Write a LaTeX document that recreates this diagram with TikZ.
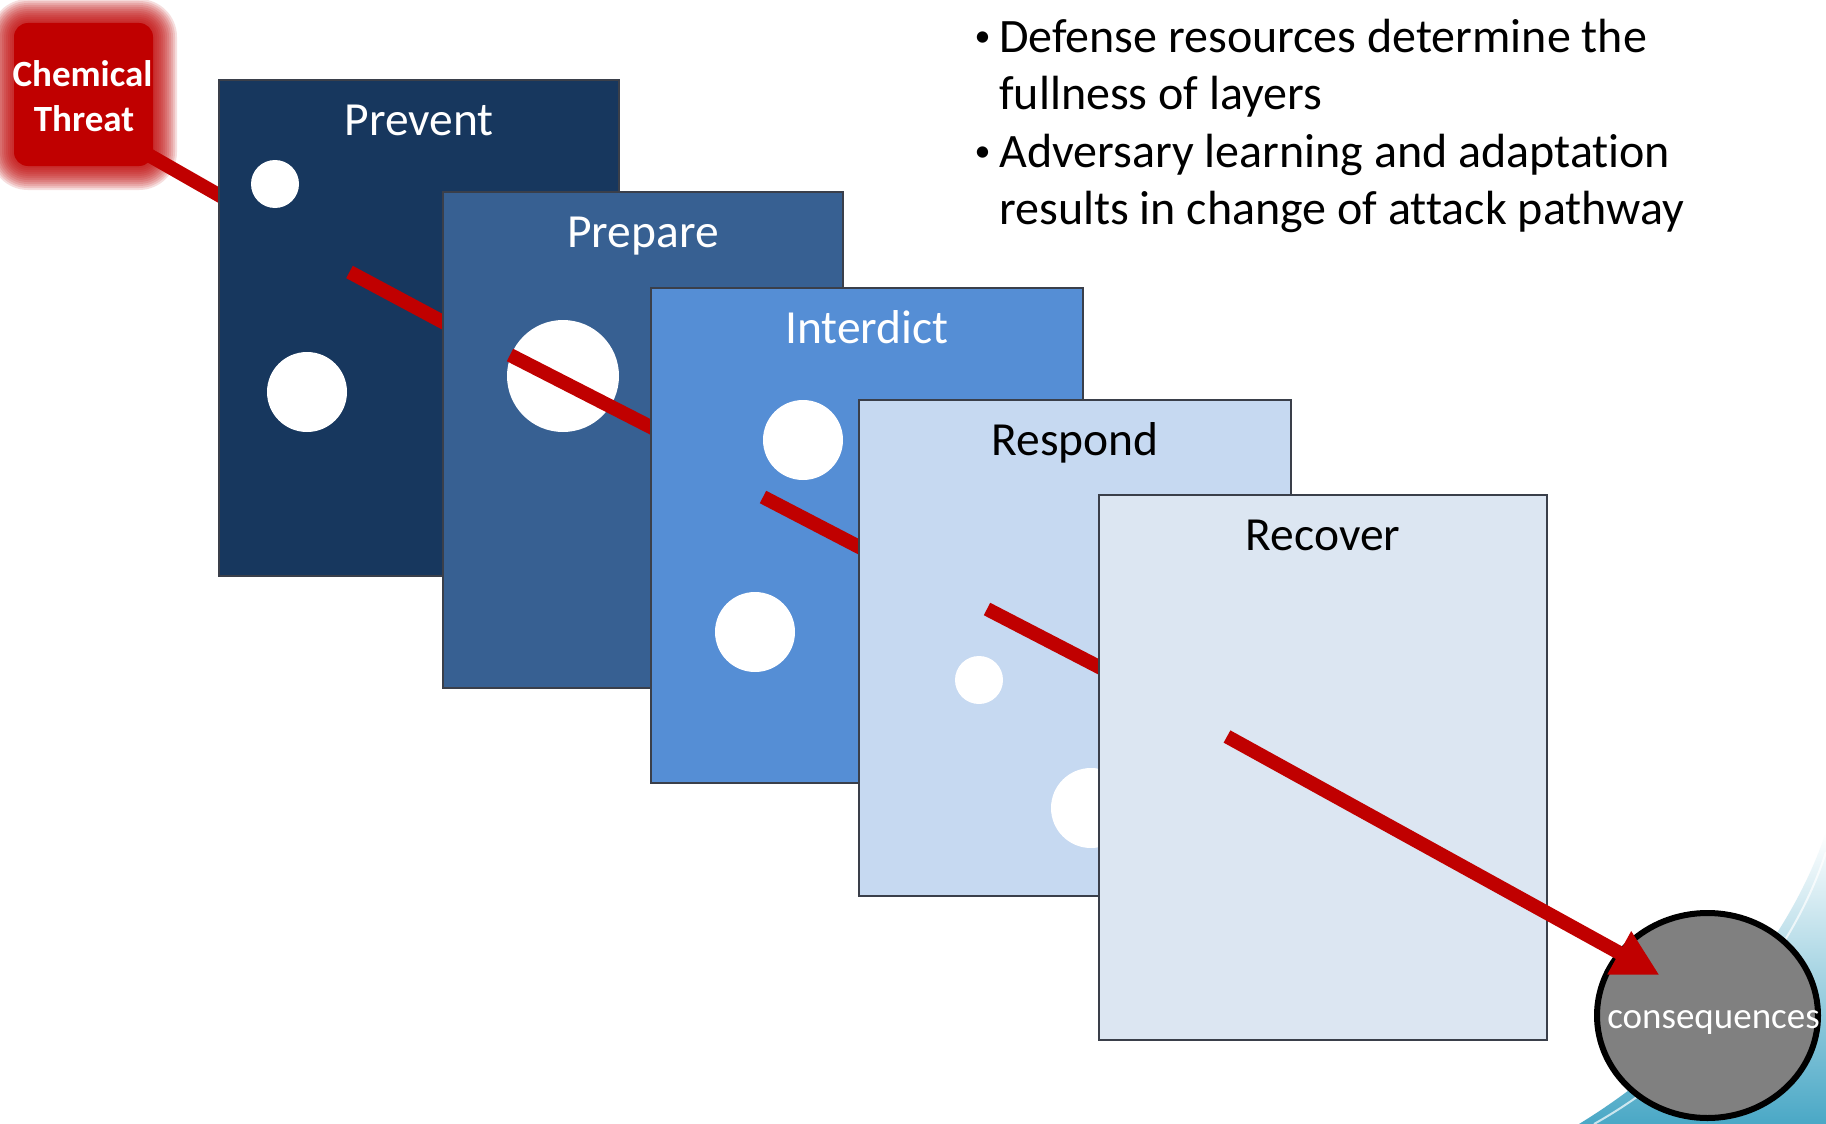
\documentclass[tikz,border=0pt]{standalone}
\usepackage{fontspec}
\setmainfont{Carlito}[Ligatures=NoCommon]
\usetikzlibrary{arrows.meta,shapes.geometric}
\definecolor{threatred}{HTML}{C00000}
\definecolor{preventc}{HTML}{17375E}
\definecolor{preparec}{HTML}{376092}
\definecolor{interdictc}{HTML}{558ED5}
\definecolor{respondc}{HTML}{C6D9F1}
\definecolor{recoverc}{HTML}{DCE6F2}
\definecolor{consgray}{HTML}{808080}
\definecolor{swoosh}{HTML}{4AA8C6}
\definecolor{edgegray}{HTML}{3A3F4A}
\begin{document}
\begin{tikzpicture}[x=1pt,y=-1pt,
  layer/.style={draw=edgegray, line width=1.5pt, rectangle, inner sep=0pt, outer sep=0pt},
  layertitle/.style={anchor=base, inner sep=0pt, font=\fontsize{47.5}{57}\selectfont},
  hole/.style={circle, fill=white, draw=none, inner sep=0pt},
  attackline/.style={draw=threatred, line width=14pt},
  bullettext/.style={anchor=base west, inner sep=0pt, font=\fontsize{48}{58}\selectfont},
  bulletdot/.style={anchor=base, inner sep=0pt, font=\fontsize{32}{38}\selectfont},
  threattext/.style={anchor=base, inner sep=0pt, text=white, font=\fontsize{37}{45}\selectfont\bfseries},
]
\useasboundingbox (0,0) rectangle (1826,1124);
\fill[white] (0,0) rectangle (1826,1124);

% background swoosh
\shade[top color=white, bottom color=swoosh]
  (1826,832) .. controls (1790,940) and (1700,1050) .. (1579,1124) -- (1826,1124) -- cycle;
\draw[white, line width=2pt, opacity=0.7]
  (1826,852) .. controls (1794,952) and (1708,1060) .. (1594,1124);

% coordinates of the attack pathway
\coordinate (s1a) at (110,133);
\coordinate (s1b) at (245,210);
\coordinate (s2a) at (349.5,272);
\coordinate (s2b) at (470,336.5);
\coordinate (s3a) at (510,355);
\coordinate (s3b) at (680,442);
\coordinate (s4a) at (763,497);
\coordinate (s4b) at (890,563);
\coordinate (s5a) at (987,609);
\coordinate (s5b) at (1130,683);
\coordinate (s6a) at (1227,736.5);
\coordinate (s6b) at (1659.5,975);

% chemical threat
\draw[attackline] (s1a) -- (s1b);
\foreach \e in {12,10,...,-12} {
  \pgfmathsetmacro\rr{26+\e}
  \fill[threatred, fill opacity=0.13, rounded corners=\rr pt] (2-\e,11-\e) rectangle (165+\e,178+\e);
}
\fill[threatred, rounded corners=14pt] (14,23) rectangle (153,166);
\coordinate (threat) at (84.5,94.5);
\node[threattext] (threat1) at (82.5,86) {Chemical};
\node[threattext] (threat2) at (84,131) {Threat};

% Prevent
\node[layer, fill=preventc, minimum width=400pt, minimum height=496pt] (prevent) at (419,328) {};
\node[layertitle, text=white] (preventt) at (419,135) {Prevent};
\node[hole, minimum size=48pt] (h11) at (275,184) {};
\node[hole, minimum size=80pt] (h12) at (307,392) {};
\draw[attackline] (s2a) -- (s2b);

% Prepare
\node[layer, fill=preparec, minimum width=400pt, minimum height=496pt] (prepare) at (643,440) {};
\node[layertitle, text=white] (preparet) at (643,247) {Prepare};
\node[hole, minimum size=112pt] (h21) at (563,376) {};
\draw[attackline] (s3a) -- (s3b);

% Interdict
\node[layer, fill=interdictc, minimum width=432pt, minimum height=495pt] (interdict) at (867,535.5) {};
\node[layertitle, text=white] (interdictt) at (867,343) {Interdict};
\node[hole, minimum size=80pt] (h31) at (803,440) {};
\node[hole, minimum size=80pt] (h32) at (755,632) {};
\draw[attackline] (s4a) -- (s4b);

% Respond
\node[layer, fill=respondc, minimum width=432pt, minimum height=496pt] (respond) at (1075,648) {};
\node[layertitle, text=black] (respondt) at (1075,455) {Respond};
\node[hole, minimum size=48pt] (h41) at (979,680) {};
\node[hole, minimum size=80pt] (h42) at (1091,808) {};
\draw[attackline] (s5a) -- (s5b);

% Recover
\node[layer, fill=recoverc, minimum width=448pt, minimum height=545pt] (recover) at (1323,767.5) {};
\node[layertitle, text=black] (recovert) at (1323,550) {Recover};

% consequences
\node[ellipse, draw=black, line width=6pt, fill=consgray, inner sep=0pt,
      minimum width=221pt, minimum height=205pt] (cons) at (1707.5,1015.5) {};
\node[anchor=base, inner sep=0pt, text=white, font=\fontsize{37}{45}\selectfont] (const) at (1713.5,1028) {consequences};

% final arrow
\draw[attackline, -{Triangle[length=46pt,width=46pt]}] (s6a) -- (s6b);

% bullets
\node[bulletdot] (d1) at (982.5,47) {•};
\node[bullettext] (b1) at (999,53) {Defense resources determine the};
\node[bullettext] (b2) at (999,110) {fullness of layers};
\node[bulletdot] (d2) at (982.5,161) {•};
\node[bullettext] (b3) at (999,167) {Adversary learning and adaptation};
\node[bullettext] (b4) at (999,224) {results in change of attack pathway};
\end{tikzpicture}
\end{document}
